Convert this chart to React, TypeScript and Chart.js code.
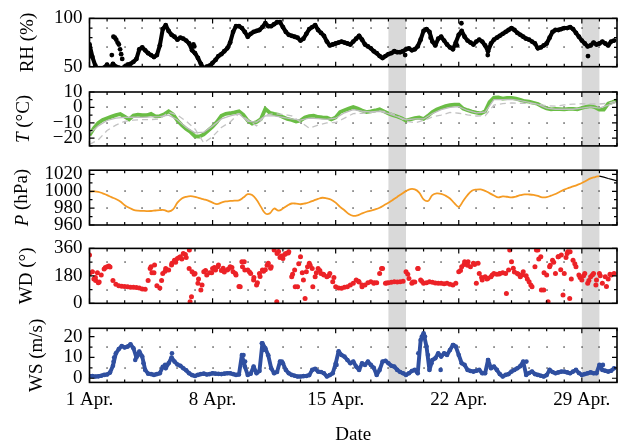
import React, { useEffect, useRef } from 'react';
import { Chart, registerables } from 'chart.js';

Chart.register(...registerables);

const W = 622;
const H = 446;
const PLOT_LEFT = 89.5;
const PLOT_RIGHT = 617;
const FAMILY = '"Liberation Serif", "Times New Roman", serif';
const FONT_SIZE = 19;

// Time axis: days since 1 April 00:00
const dateTickDays = [0, 7, 14, 21, 28];
const dateTickLabels = ['1 Apr.', '8 Apr.', '15 Apr.', '22 Apr.', '29 Apr.'];
const highlightDays: [number, number][] = [[17, 18], [28, 29]];

// Relative humidity (%), every 4 h
const rhValues = [
  73, 60, 51, 46, 47, 49,
  52, 48, 53, 50, 49, 48,
  50, 52, 53, 55, 58, 68,
  70, 67, 64, 62, 60, 62,
  72, 89, 93, 87, 83, 81,
  78, 80, 79, 77, 74, 67,
  64, 59, 53, 48, 50, 51,
  54, 57, 61, 63, 66, 69,
  75, 86, 92, 92, 90, 86,
  81, 84, 86, 87, 88, 91,
  95, 92, 92, 94, 96, 96,
  91, 86, 83, 82, 81, 80,
  77, 79, 84, 89, 91, 93,
  88, 85, 82, 76, 72, 73,
  74, 75, 76, 75, 74, 73,
  76, 79, 82, 78, 73, 71,
  69, 66, 64, 61, 59, 61,
  63, 64, 66, 65, 65, 66,
  68, 69, 67, 68, 71, 78,
  87, 89, 86, 76, 72, 79,
  81, 77, 73, 70, 68, 75,
  83, 87, 81, 77, 75, 73,
  76, 78, 76, 72, 66, 74,
  78, 80, 82, 84, 86, 88,
  90, 88, 85, 83, 81, 79,
  78, 76, 74, 69, 70, 72,
  74, 80, 86, 88, 88, 89,
  90, 90, 91, 89, 85, 81,
  77, 74, 71, 72, 75, 73,
  74, 76, 74, 72, 76, 77,
];
const rhExtra: [number, number][] = [
  [1.27, 62], [1.36, 81], [1.44, 80], [1.52, 78], [1.6, 75], [1.67, 73], [1.74, 68],
  [1.8, 63], [1.86, 58], [5.91, 73], [5.96, 71], [17.95, 62], [19.4, 80], [20.9, 72],
  [21.15, 95], [22.65, 62], [28.35, 61],
];

// Air temperature (°C): station every 6 h, reference curves every 12 h
const tStation = [
  -18, -13.5, -10.1, -8.2,
  -7, -6, -5, -4.3,
  -6, -7.8, -5.3, -4.7,
  -5.1, -5.1, -4.2, -5.8,
  -5.6, -4.5, -2.5, -4.5,
  -8.5, -11.5, -14, -16,
  -18.8, -18.9, -17.5, -15,
  -12.5, -9.4, -5.4, -4.2,
  -3.8, -3.2, -2.5, -4.9,
  -8.6, -10.5, -9.5, -7.6,
  -1.0, -3.5, -4.2, -4.8,
  -6.3, -7.5, -8.2, -9.2,
  -8.5, -6.6, -5.6, -5.3,
  -6.2, -6.5, -6.6, -7.8,
  -6.5, -3, -1.9, -0.8,
  0.3, -0.8, -2, -3,
  -2.6, -2, -1.2, -2.6,
  -4, -5, -5.9, -7,
  -8.6, -7.8, -7, -6.6,
  -7.5, -5.5, -3, -1.3,
  -0.2, 0.8, 1.4, 1.8,
  1.8, -0.8, -1.8, -2.7,
  -3.4, -3.9, -2.5, 3.5,
  6.3, 6.5, 5.7, 6.1,
  6.2, 5.7, 4.9, 4.0,
  3.7, 3.0, 2.2, 0.6,
  -0.6, -1.3, -0.9, -1.1,
  -1.3, -0.9, -1.0, -1.3,
  -0.4, 0.4, 0.8, 0.1,
  -1.5, -1.5, 2.5, 3.5,
  4.7,
];
const tReferenceA = [
  -17, -12, -8.5, -7, -6.5, -6.3, -6.5, -6.2, -6, -5, -8, -13, -16.5, -16, -12, -7.5,
  -5.5, -4.2, -9, -9.5, -5.5, -5.5, -6.5, -7.5, -8.3, -7, -7.3, -7.8, -7, -3.5, -1.5,
  -2.5, -3, -2.5, -4, -6, -8, -7.5, -7.5, -4, -1.5, 0, 0.5, -2, -3.5, -3, 5, 5, 5.2,
  4.4, 3.2, 2, -0.5, -1.2, -1.2, -1.2, -0.5, 0.3, -0.5, 1.5, 3.5,
];
const tReferenceB = [
  -24, -21, -15, -11.5, -9, -8.3, -7.9, -7.9, -7.5, -3, -5, -9, -14, -23, -19, -13,
  -9.5, -4, -8, -12, -5, -4, -4.5, -5.5, -9.5, -13.5, -11.5, -10.1, -9.8, -7, -4,
  -3.8, -3.3, -2.3, -3, -5.5, -9, -10, -8.5, -6.2, -5, -3.3, -3.8, -4.8, -5.6, -5.5,
  1.5, 2.5, 2.9, 2.7, 2.5, 2.2, 1, 0.8, 1.6, 2.1, 2.4, 2.2, 2.2, 2.7, 4.2,
];

// Surface pressure (hPa), every 6 h
const pValues = [
  999.5, 999.8, 999.4, 997.5,
  995.5, 993, 990.8, 988,
  983.5, 980.5, 978, 977,
  976.8, 976.5, 976.6, 977.2,
  977.7, 977.7, 976, 978.5,
  986.5, 991.5, 993.5, 994.2,
  993.5, 991.8, 990.5, 989,
  986.5, 984.8, 986.5, 988,
  988.5, 988.8, 989.3, 992.5,
  996.5, 995.5, 990, 981.5,
  973.8, 973.8, 979.5, 977,
  979.5, 983, 985.5, 985.3,
  984.6, 985.5, 987, 989,
  991, 992.3, 991.5, 990,
  986.5, 981.5, 977.5, 973,
  970.8, 971.5, 973.8, 975.7,
  977, 978.5, 980.5, 983.5,
  986.5, 989.8, 993.3, 996.8,
  1000.2, 1002.6, 1002.2, 998.5,
  990.5, 988.5, 995.5, 997.5,
  997, 994.8, 991.5, 986,
  981.5, 988.5, 995.5, 1000.6,
  1002, 1002.2, 1000.5, 997.8,
  995, 992.7, 994, 993.5,
  992.8, 993.8, 995.3, 996.3,
  996.2, 995.7, 994.5, 992.8,
  993, 994.8, 996.8, 999.5,
  1002, 1004, 1005.8, 1007.7,
  1009.8, 1012.5, 1015.3, 1016.8,
  1018,
];
const pTail = [1018, 1016.8, 1015.2, 1013.8, 1012.4];

// Wind direction (°), every 4 h
const wdValues = [
  196, 207, 170, 135, 185, 225,
  240, 238, 150, 125, 115, 112,
  110, 108, 106, 105, 103, 100,
  93, 92, 150, 240, 200, 115,
  100, 195, 229, 218, 251, 283,
  294, 305, 327, 300, 229, 207,
  196, 131, 87, 207, 185, 200,
  229, 218, 251, 215, 205, 218,
  240, 207, 185, 110, 272, 218,
  218, 196, 153, 120, 196, 218,
  220, 262, 240, 349, 327, 300,
  294, 327, 338, 174, 218, 109,
  305, 153, 207, 262, 229, 174,
  229, 196, 185, 174, 196, 142,
  109, 100, 98, 105, 109, 120,
  131, 153, 140, 109, 120, 135,
  142, 131, 135, 196, 229, 131,
  135, 138, 142, 140, 142, 145,
  207, 163, 131, 140, 229, 153,
  131, 135, 142, 138, 133, 131,
  131, 128, 131, 125, 120, 131,
  207, 240, 272, 250, 240, 262,
  131, 196, 153, 174, 165, 174,
  196, 190, 196, 200, 196, 218,
  272, 205, 196, 174, 207, 180,
  142, 109, 240, 349, 305, 87,
  185, 240, 283, 196, 305, 316,
  196, 327, 338, 283, 240, 185,
  153, 196, 131, 174, 196, 153,
  196, 131, 174, 160, 185, 196,
];
const wdExtra: [number, number][] = [
  [0, 316], [0.35, 150], [0.45, 200], [0.55, 140], [0.25, 160], [0.9, 235], [1.1, 245],
  [3.45, 229], [3.7, 251], [3.55, 200], [4.1, 150], [4.3, 210], [4.69, 262], [4.9, 270],
  [5.1, 300], [5.25, 290], [5.45, 320], [5.68, 349], [5.72, 10], [5.8, 43], [5.95, 190],
  [6.2, 160], [6.4, 120], [6.6, 215], [6.95, 200], [7.1, 235], [7.3, 240], [7.6, 230],
  [7.9, 225], [8.1, 235], [8.3, 195], [8.57, 109], [8.7, 240], [8.8, 272], [9.1, 205],
  [9.35, 170], [9.55, 135], [9.7, 175], [9.9, 210], [10.1, 250], [10.3, 230],
  [10.65, 10], [10.75, 340], [10.9, 310], [11.1, 320], [11.3, 330], [11.55, 190],
  [11.7, 109], [11.9, 260], [12.1, 200], [12.26, 32], [12.4, 240], [12.55, 250],
  [12.7, 109], [12.9, 200], [13.1, 215], [13.3, 190], [13.6, 180], [13.9, 170],
  [15.3, 145], [15.5, 120], [16.2, 135], [16.61, 229], [16.9, 133], [18.1, 190],
  [18.4, 140], [18.69, 229], [18.9, 145], [21.1, 215], [21.3, 255], [21.53, 272],
  [21.9, 255], [22.1, 262], [22.3, 170], [22.6, 160], [22.9, 185], [23.3, 192],
  [23.71, 65], [23.9, 349], [24.1, 230], [24.4, 190], [24.6, 185], [24.9, 160],
  [25.1, 120], [25.42, 349], [25.55, 290], [25.7, 87], [25.85, 200], [26.08, 10],
  [26.2, 250], [26.4, 270], [26.65, 305], [26.8, 220], [26.93, 54], [27.1, 300],
  [27.2, 338], [27.31, 32], [27.4, 160], [27.6, 260], [27.9, 170], [28.1, 180],
  [28.4, 150], [28.6, 185], [28.8, 120], [29.05, 180], [29.4, 110], [29.6, 190],
];

// Wind speed (m/s), every 4 h
const wsValues = [
  1.1, 1.0, 0.8, 0.9, 1.2, 1.6,
  1.8, 2.7, 6, 12, 14, 15.5,
  14.8, 15.2, 16.3, 14.4, 10, 12.8,
  10.4, 4, 2.2, 2, 1.6, 2,
  2.4, 5.5, 4.8, 7.2, 10, 8,
  6.6, 6, 4.8, 3.8, 2.4, 1.5,
  1.1, 1.6, 2, 2.2, 1.8, 2,
  2.4, 2.2, 2.1, 2, 2.2, 2.4,
  2.4, 2, 1.6, 1.8, 11.2, 5.6,
  1.6, 2.2, 5.6, 2.4, 3.5, 16.8,
  14.4, 11, 4.8, 2.4, 3, 8,
  7.2, 4, 2.4, 1.6, 1.2, 0.8,
  0.8, 1, 1.1, 1.5, 4, 4.5,
  3.2, 3, 2.4, 0.8, 1.5, 2.4,
  7, 13, 11.2, 10.4, 8.8, 7.2,
  8, 5.6, 4, 7.2, 6.4, 8,
  6.4, 5, 1.6, 4, 8, 8.4,
  7.2, 6, 5.6, 4, 3, 2.4,
  1.6, 2.4, 3.5, 4, 2.4, 18.4,
  21.6, 15.2, 4, 8.8, 9.6, 12,
  10.4, 12, 11.2, 13.6, 16, 15.2,
  11.2, 7.2, 6.4, 4, 3.5, 3.2,
  3.6, 4, 2.4, 2.4, 8.8, 4.8,
  5.6, 4, 2, 0.8, 1.6, 2,
  3.2, 4, 4.8, 5.8, 8, 1.6,
  2.5, 3.2, 2, 1.6, 1.2, 0.8,
  1.5, 4, 3, 2.4, 2.8, 3.2,
  3.2, 2.8, 2.4, 3.2, 4, 2.5,
  1.6, 2, 2.4, 2.8, 2.4, 2.4,
  6.4, 4, 3.6, 3.2, 3.6, 4.8,
];
const wsExtra: [number, number][] = [
  [1.37, 8], [1.4, 10], [2.6, 8.8], [2.75, 11], [3.07, 7.2], [4.3, 6.4], [4.69, 12],
  [8.76, 11.2], [8.85, 8], [9.8, 16.8], [9.9, 13.6], [10.94, 8], [14.05, 6.4], [14.2, 12],
  [18.7, 12], [18.9, 20], [19.08, 20], [19.25, 11.2], [19.45, 7.2], [19.97, 4], [20.7, 16],
  [22.67, 8.8], [24.85, 8], [29.2, 6.4],
];

type Pt = { x: number; y: number };
const regular = (values: number[], start: number, step: number): Pt[] =>
  values.map((v, i) => ({ x: start + i * step, y: v }));
const pairs = (list: [number, number][]): Pt[] => list.map(([x, y]) => ({ x, y }));

const dots = (data: Pt[], color: string, r: number) => ({
  data, backgroundColor: color, borderWidth: 0, pointRadius: r, pointHoverRadius: r,
});
// dense record: a chain of markers joined by a stroke of the same width
const chain = (data: Pt[], color: string, r: number) => ({
  data, showLine: true, borderColor: color, borderWidth: r * 1.7, borderCapStyle: 'round',
  borderJoinStyle: 'round', backgroundColor: color, pointBorderWidth: 0, pointRadius: r, pointHoverRadius: r,
});
const curve = (data: Pt[], color: string, width: number, extra: Record<string, unknown> = {}) => ({
  data, showLine: true, borderColor: color, borderWidth: width, pointRadius: 0, tension: 0, ...extra,
});

type TitlePart = { text: string; italic?: boolean };
type Panel = {
  top: number; bottom: number; min: number; max: number;
  labels: number[]; minorStep: number; gridRows: number[];
  title: TitlePart[]; titleX: number; datasets: () => any[];
};

const panels: Panel[] = [
  {
    top: 12.7, bottom: 66.7, min: 50, max: 100, labels: [50, 100], minorStep: 10, gridRows: [70, 90],
    title: [{ text: 'RH (%)' }], titleX: 28,
    datasets: () => [chain(regular(rhValues, 0, 1 / 6), '#000', 2.4), dots(pairs(rhExtra), '#000', 2.4)],
  },
  {
    top: 92, bottom: 145.9, min: -25, max: 10, labels: [-20, -10, 0, 10], minorStep: 5, gridRows: [-20, -10, 0],
    title: [{ text: 'T', italic: true }, { text: ' (°C)' }], titleX: 24,
    datasets: () => [
      curve(regular(tReferenceB, 0, 0.5), '#c3c3c3', 1.3, { borderDash: [6, 4] }),
      curve(regular(tReferenceA, 0, 0.5), '#bcbcbc', 1.3),
      curve(regular(tStation, 0, 0.25), '#6abd45', 3.8),
    ],
  },
  {
    top: 170.2, bottom: 225, min: 960, max: 1025, labels: [960, 980, 1000, 1020], minorStep: 10, gridRows: [980, 1000],
    title: [{ text: 'P', italic: true }, { text: ' (hPa)' }], titleX: 22.5,
    datasets: () => [
      curve(regular(pTail, 29, 0.25), '#000', 1.2),
      curve(regular(pValues, 0, 0.25), '#f59b23', 1.8, { tension: 0.4 }),
    ],
  },
  {
    top: 248.4, bottom: 303.3, min: 0, max: 360, labels: [0, 180, 360], minorStep: 90, gridRows: [90, 270],
    title: [{ text: 'WD (°)' }], titleX: 27,
    datasets: () => [dots(regular(wdValues, 0, 1 / 6), '#ec2227', 2.5), dots(pairs(wdExtra), '#ec2227', 2.5)],
  },
  {
    top: 328.3, bottom: 382.4, min: -2, max: 24, labels: [0, 10, 20], minorStep: 5, gridRows: [5, 15],
    title: [{ text: 'WS (m/s)' }], titleX: 37,
    datasets: () => [chain(regular(wsValues, 0, 1 / 6), '#2f4fa0', 2.3), dots(pairs(wsExtra), '#2f4fa0', 2.3)],
  },
];

const fmt = (v: number) => (v < 0 ? '\u2212' + Math.abs(v) : String(v));

// Frame, inward ticks, dotted grid, highlighted days and mixed-style axis titles
const panelPlugin = {
  id: 'panel',
  beforeDatasetsDraw(chart: any, _args: any, o: any) {
    const { ctx, chartArea: a } = chart;
    const x = chart.scales.x;
    const y = chart.scales.y;
    ctx.save();
    ctx.fillStyle = '#d9d9d9';
    for (const [d0, d1] of highlightDays) {
      const x0 = x.getPixelForValue(d0);
      const x1 = x.getPixelForValue(d1);
      ctx.fillRect(x0, a.top, x1 - x0, a.bottom - a.top + o.bandBelow);
    }
    ctx.fillStyle = '#222';
    for (let d = 1; d < 30; d++) {
      const px = Math.round(x.getPixelForValue(d));
      for (const v of o.gridRows) {
        const py = Math.round(y.getPixelForValue(v));
        ctx.fillRect(px - 0.6, py - 0.6, 1.3, 1.3);
      }
    }
    ctx.restore();
  },
  afterDatasetsDraw(chart: any, _args: any, o: any) {
    const { ctx, chartArea: a } = chart;
    const x = chart.scales.x;
    const y = chart.scales.y;
    ctx.save();
    ctx.strokeStyle = '#000';
    ctx.lineWidth = 1.2;
    ctx.beginPath();
    for (let d = 0; d <= 30; d++) {
      const px = x.getPixelForValue(d);
      const len = d % 7 === 0 ? 5 : 3;
      ctx.moveTo(px, a.top); ctx.lineTo(px, a.top + len);
      ctx.moveTo(px, a.bottom); ctx.lineTo(px, a.bottom - len);
    }
    // minor ticks at multiples of the step that fall inside the range
    const first = Math.ceil(o.min / o.minorStep);
    const last = Math.floor(o.max / o.minorStep);
    for (let k = first; k <= last; k++) {
      const v = k * o.minorStep;
      const py = y.getPixelForValue(v);
      const len = o.labels.includes(v) ? 5 : 3;
      ctx.moveTo(a.left, py); ctx.lineTo(a.left + len, py);
      ctx.moveTo(a.right, py); ctx.lineTo(a.right - len, py);
    }
    ctx.stroke();
    ctx.lineWidth = 1.6;
    ctx.strokeRect(a.left, a.top, a.right - a.left, a.bottom - a.top);

    // axis title, rotated, with italic symbols
    const parts: TitlePart[] = o.title;
    const fontOf = (p: TitlePart) => `${p.italic ? 'italic ' : ''}${FONT_SIZE}px ${FAMILY}`;
    const widths = parts.map((p) => { ctx.font = fontOf(p); return ctx.measureText(p.text).width; });
    const total = widths.reduce((s, w) => s + w, 0);
    ctx.translate(o.titleX, (a.top + a.bottom) / 2);
    ctx.rotate(-Math.PI / 2);
    ctx.textBaseline = 'middle';
    ctx.textAlign = 'left';
    ctx.fillStyle = '#000';
    let cx = -total / 2;
    parts.forEach((p, i) => { ctx.font = fontOf(p); ctx.fillText(p.text, cx, 0); cx += widths[i]; });
    ctx.restore();
  },
};

function makeConfig(p: Panel, index: number): any {
  const isLast = index === panels.length - 1;
  const next = panels[index + 1];
  const font = { family: FAMILY, size: FONT_SIZE };
  return {
    type: 'scatter',
    data: { datasets: p.datasets() },
    options: {
      animation: false,
      responsive: false,
      devicePixelRatio: 1,
      events: [],
      layout: { padding: { left: 0, right: W - PLOT_RIGHT, top: p.top, bottom: isLast ? 0 : H - p.bottom } },
      plugins: {
        legend: { display: false },
        tooltip: { enabled: false },
        panel: {
          bandBelow: next ? next.top - p.bottom : 0,
          gridRows: p.gridRows, labels: p.labels, min: p.min, max: p.max, minorStep: p.minorStep,
          title: p.title, titleX: p.titleX,
        },
      },
      scales: {
        x: {
          type: 'linear', min: 0, max: 30, display: isLast,
          afterBuildTicks: (s: any) => { s.ticks = dateTickDays.map((v) => ({ value: v })); },
          afterFit: (s: any) => { s.height = isLast ? H - p.bottom : 0; },
          ticks: {
            autoSkip: false, maxRotation: 0, padding: 6, font, color: '#000',
            callback: (v: number) => dateTickLabels[dateTickDays.indexOf(v)],
          },
          grid: { display: false, drawTicks: false },
          border: { display: false },
          title: { display: true, text: 'Date', font, color: '#000', padding: { top: 0, bottom: 0 } },
        },
        y: {
          type: 'linear', min: p.min, max: p.max,
          afterBuildTicks: (s: any) => { s.ticks = p.labels.map((v) => ({ value: v })); },
          afterFit: (s: any) => { s.width = PLOT_LEFT; },
          ticks: { autoSkip: false, padding: 7, font, color: '#000', callback: (v: number) => fmt(v) },
          grid: { display: false, drawTicks: false },
          border: { display: false },
        },
      },
    },
    plugins: [panelPlugin],
  };
}

export default function App() {
  const refs = useRef<(HTMLCanvasElement | null)[]>([]);
  useEffect(() => {
    const charts = panels.map((p, i) => new Chart(refs.current[i] as HTMLCanvasElement, makeConfig(p, i)));
    return () => charts.forEach((c) => c.destroy());
  }, []);
  return (
    <div style={{ position: 'fixed', left: 0, top: 0, width: W, height: H, background: '#fff' }}>
      {panels.map((p, i) => (
        <canvas
          key={p.title.map((t) => t.text).join('')}
          ref={(el) => { refs.current[i] = el; }}
          width={W}
          height={H}
          style={{ position: 'absolute', left: 0, top: 0 }}
        />
      ))}
    </div>
  );
}
